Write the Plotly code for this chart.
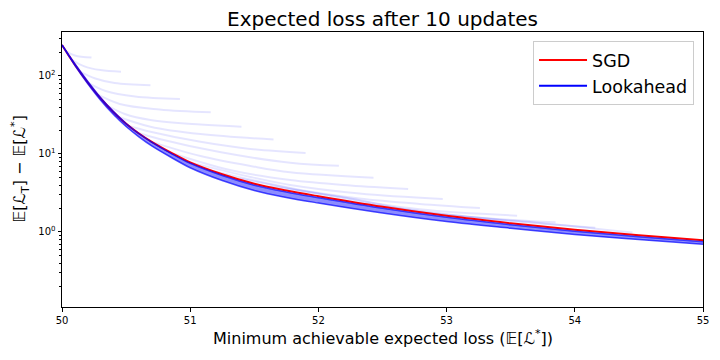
import plotly.graph_objects as go

# x positions shared by the SGD and Lookahead curves
min_loss = [50.0, 50.05, 50.1, 50.2, 50.3, 50.4, 50.5, 50.6, 50.7, 50.85, 51.0,
            51.25, 51.5, 51.75, 52.0, 52.5, 53.0, 53.5, 54.0, 54.5, 55.0]

sgd = [249.7, 185.9, 140.0, 83.0, 51.8, 34.6, 24.4, 18.3, 14.3, 10.4, 7.80,
       5.49, 4.15, 3.40, 2.87, 2.10, 1.61, 1.293, 1.067, 0.907, 0.783]

lookahead_upper = [249.7, 189.2, 143.3, 85.5, 53.0, 35.2, 24.6, 18.3, 14.2, 10.2, 7.60,
                   5.30, 3.98, 3.25, 2.75, 2.01, 1.54, 1.237, 1.021, 0.868, 0.749]

lookahead_lower = [249.7, 184.3, 137.1, 80.1, 49.3, 32.3, 22.5, 16.6, 12.7, 9.08, 6.67,
                   4.57, 3.41, 2.77, 2.35, 1.75, 1.36, 1.116, 0.929, 0.799, 0.696]

# faint curves that break away from the main curve
faint_x = [
    [50.03, 50.10, 50.23],
    [50.08, 50.17, 50.30, 50.46],
    [50.14, 50.26, 50.41, 50.69],
    [50.20, 50.34, 50.57, 50.92],
    [50.27, 50.45, 50.76, 51.16],
    [50.34, 50.49, 50.69, 51.08, 51.40],
    [50.41, 50.69, 51.08, 51.65],
    [50.49, 50.69, 51.08, 51.47, 51.90],
    [50.57, 50.76, 51.23, 51.78, 52.16],
    [50.69, 51.08, 51.47, 51.78, 52.43],
    [50.84, 51.31, 51.78, 52.25, 52.70],
    [51.00, 51.47, 51.78, 52.32, 52.97],
    [51.19, 51.86, 52.32, 52.79, 53.26],
    [51.39, 52.01, 52.79, 53.55],
    [51.62, 52.25, 52.79, 53.34, 53.85],
    [51.93, 52.64, 53.42, 54.16],
    [52.25, 53.03, 53.81, 54.45],
]
faint_y = [
    [209, 183, 172],
    [160, 134, 119, 113.5],
    [114, 93, 81.3, 76],
    [82, 64.2, 54.6, 50.7],
    [58.8, 43.8, 37.2, 34.2],
    [43.1, 32.6, 27.3, 23.9, 22.4],
    [31.2, 22.4, 18.0, 15.3],
    [23.5, 19.3, 14.3, 11.6, 10.3],
    [19.1, 15.6, 10.6, 7.73, 7.08],
    [14.4, 9.43, 7.02, 5.83, 4.97],
    [10.45, 6.23, 4.64, 3.95, 3.56],
    [7.80, 5.07, 4.01, 3.12, 2.65],
    [5.97, 3.46, 2.69, 2.29, 2.03],
    [4.85, 3.07, 1.95, 1.62],
    [3.83, 2.69, 1.79, 1.49, 1.33],
    [2.94, 2.00, 1.42, 1.135],
    [2.39, 1.65, 1.27, 0.985],
]

x_ticks = [50, 51, 52, 53, 54, 55]
y_ticks = [1, 10, 100]
y_tick_text = ["10<sup>0</sup>", "10<sup>1</sup>", "10<sup>2</sup>"]

FONT = "DejaVu Sans"

fig = go.Figure()

for fx, fy in zip(faint_x, faint_y):
    fig.add_trace(
        go.Scatter(
            x=fx,
            y=fy,
            mode="lines",
            line=dict(color="rgba(0,0,255,0.1)", width=2, shape="spline"),
            showlegend=False,
            hoverinfo="skip",
        )
    )

fig.add_trace(
    go.Scatter(
        x=min_loss,
        y=sgd,
        mode="lines",
        name="SGD",
        line=dict(color="red", width=2, shape="spline"),
    )
)

fig.add_trace(
    go.Scatter(
        x=min_loss,
        y=lookahead_lower,
        mode="lines",
        line=dict(color="rgba(0,0,255,0.7)", width=1.5, shape="spline"),
        showlegend=False,
    )
)
fig.add_trace(
    go.Scatter(
        x=min_loss,
        y=lookahead_upper,
        mode="lines",
        fill="tonexty",
        fillcolor="rgba(0,0,255,0.45)",
        line=dict(color="rgba(0,0,255,0.7)", width=1.5, shape="spline"),
        showlegend=False,
    )
)
# legend entry only
fig.add_trace(
    go.Scatter(
        x=[None],
        y=[None],
        mode="lines",
        name="Lookahead",
        line=dict(color="blue", width=2),
    )
)

minor_vals = [m * 10 ** k for k in (-1, 0, 1, 2) for m in range(2, 10)]

fig.update_layout(
    width=720,
    height=360,
    paper_bgcolor="white",
    plot_bgcolor="white",
    font=dict(family=FONT, color="black"),
    margin=dict(l=62, r=17, t=32, b=53),
    title=dict(
        text="Expected loss after 10 updates",
        font=dict(size=20, family=FONT, color="black"),
        x=0.5313,
        xanchor="center",
        y=1 - 18.5 / 360,
        yanchor="middle",
    ),
    legend=dict(
        x=0.986,
        y=0.967,
        xanchor="right",
        yanchor="top",
        traceorder="normal",
        itemwidth=48,
        bgcolor="rgba(255,255,255,0.8)",
        bordercolor="#cccccc",
        borderwidth=1,
        font=dict(size=17.5, family=FONT, color="black"),
    ),
    xaxis=dict(
        range=[50, 55],
        tickvals=x_ticks,
        ticktext=[str(t) for t in x_ticks],
        ticks="outside",
        ticklen=3.5,
        tickwidth=1,
        tickcolor="black",
        showline=True,
        linecolor="black",
        linewidth=1,
        mirror=True,
        showgrid=False,
        zeroline=False,
        tickfont=dict(size=10, family=FONT),
    ),
    yaxis=dict(
        type="log",
        range=[-0.962, 2.564],
        tickvals=y_ticks,
        ticktext=y_tick_text,
        ticks="outside",
        ticklen=3.5,
        tickwidth=1,
        tickcolor="black",
        showline=True,
        linecolor="black",
        linewidth=1,
        mirror=True,
        showgrid=False,
        zeroline=False,
        tickfont=dict(size=10, family=FONT),
        minor=dict(
            tickvals=minor_vals,
            ticks="outside",
            ticklen=2,
            tickwidth=0.8,
            tickcolor="black",
            showgrid=False,
        ),
    ),
    annotations=[
        dict(
            text="Minimum achievable expected loss (𝔼[ℒ<sup>*</sup>])",
            xref="paper",
            yref="paper",
            x=0.5,
            y=-0.1127,
            xanchor="center",
            yanchor="middle",
            showarrow=False,
            font=dict(size=16, family=FONT, color="black"),
        ),
        dict(
            text="𝔼[ℒ<sub>T</sub>] − 𝔼[ℒ<sup>*</sup>]",
            xref="paper",
            yref="paper",
            x=-0.0655,
            y=0.5,
            xanchor="center",
            yanchor="middle",
            textangle=-90,
            showarrow=False,
            font=dict(size=16, family=FONT, color="black"),
        ),
    ],
)

fig.write_html(
    "out.html",
    config={"displayModeBar": False},
    post_script="document.body.style.margin='0';",
)
